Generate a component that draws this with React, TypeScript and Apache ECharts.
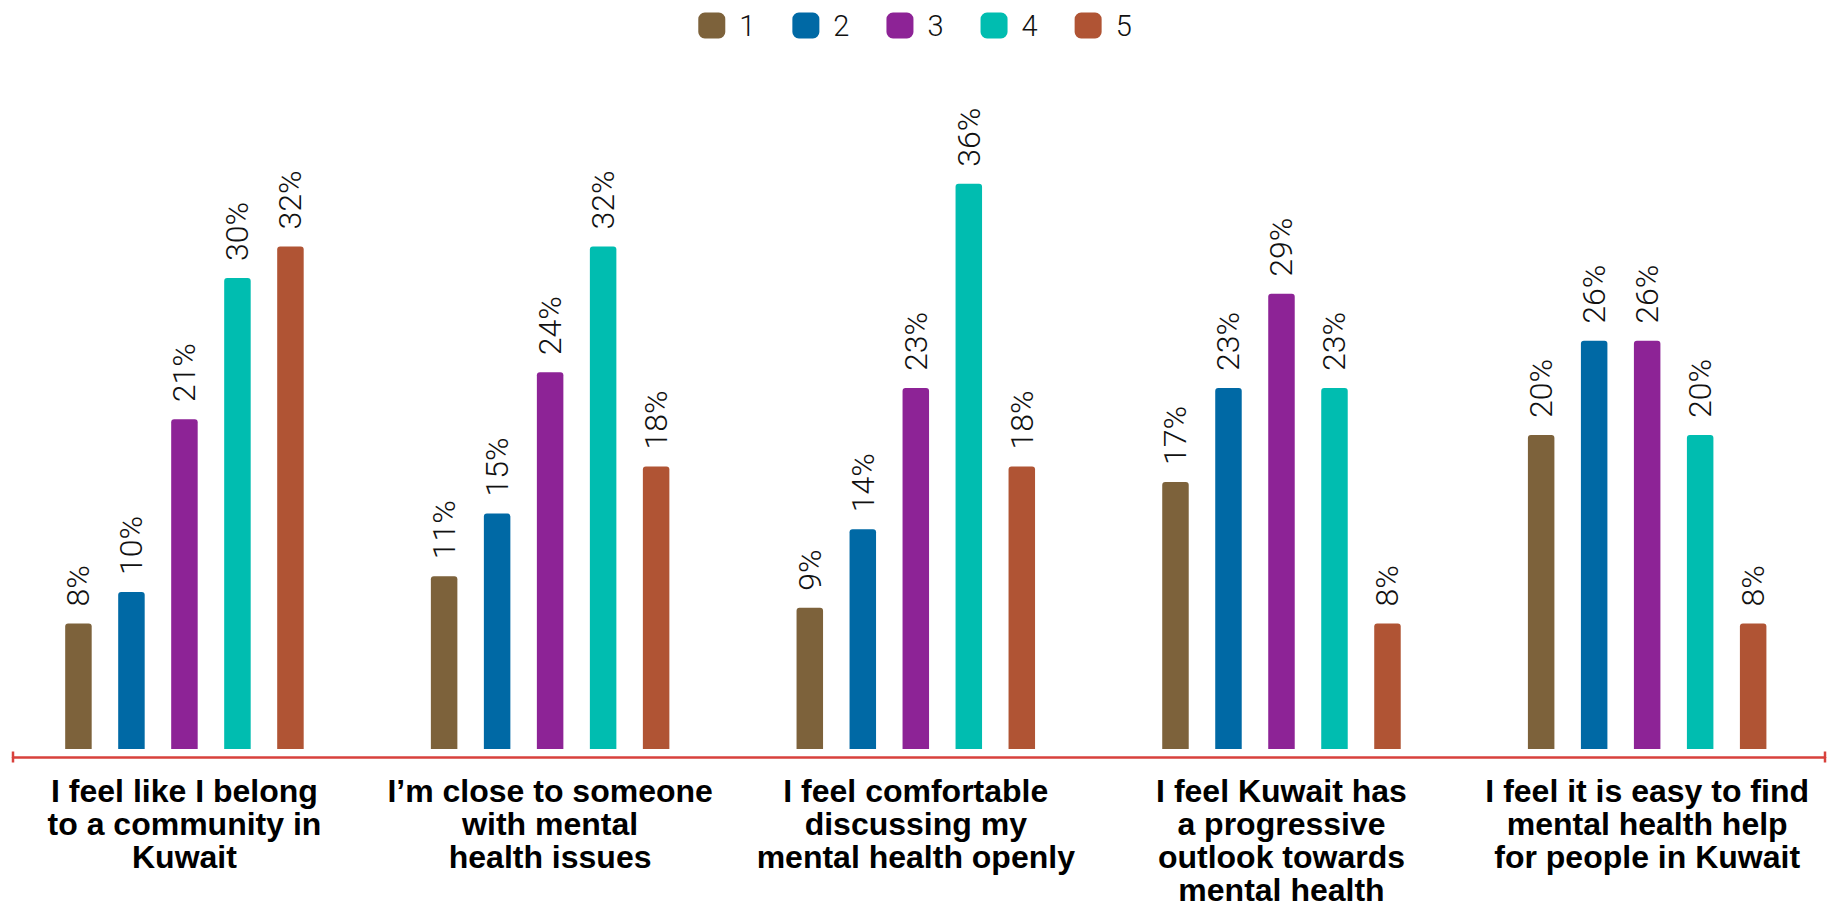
import React, { useEffect, useRef } from "react";
import * as echarts from "echarts";

const categories = [
  "I feel like I belong\nto a community in\nKuwait",
  "I’m close to someone\nwith mental\nhealth issues",
  "I feel comfortable\ndiscussing my\nmental health openly",
  "I feel Kuwait has\na progressive\noutlook towards\nmental health",
  "I feel it is easy to find\nmental health help\nfor people in Kuwait",
];

const seriesNames = ["1", "2", "3", "4", "5"];
const series1 = [8, 11, 9, 17, 20];
const series2 = [10, 15, 14, 23, 26];
const series3 = [21, 24, 23, 29, 26];
const series4 = [30, 32, 36, 23, 20];
const series5 = [32, 18, 18, 8, 8];
const seriesValues = [series1, series2, series3, series4, series5];
const colors = ["#7d623b", "#0069a5", "#8d2396", "#00bdb0", "#b05434"];

export default function App() {
  const ref = useRef<HTMLDivElement>(null);
  useEffect(() => {
    if (!ref.current) return;
    const chart = echarts.init(ref.current, null, { renderer: "svg" });
    const option: any = {
      animation: false,
      backgroundColor: "#ffffff",
      legend: {
        top: 11,
        left: "center",
        padding: 0,
        icon: "roundRect",
        itemWidth: 27,
        itemHeight: 26,
        itemGap: 37,
        textStyle: {
          fontFamily: "Roboto, 'Liberation Sans', sans-serif",
          fontWeight: 300,
          fontSize: 29,
          color: "#111",
          padding: [0, 0, 0, 9],
        },
        data: seriesNames,
      },
      grid: [
        { left: 1.6, width: 1834, top: 121, height: 636 },
        { left: 13, width: 1812, top: 121, height: 636 },
      ],
      xAxis: [
        {
          type: "category",
          gridIndex: 0,
          data: categories,
          axisLine: { show: false },
          axisTick: { show: false },
          axisLabel: {
            interval: 0,
            margin: 25,
            fontFamily: "'Liberation Sans', Arial, Helvetica, sans-serif",
            fontWeight: "bold",
            fontSize: 32,
            lineHeight: 33,
            color: "#000",
            align: "center",
          },
        },
        {
          type: "value",
          gridIndex: 1,
          min: 0,
          max: 1,
          position: "bottom",
          axisLine: {
            show: true,
            onZero: false,
            symbol: ["rect", "rect"],
            symbolSize: [11, 2.5],
            lineStyle: { color: "#d8413c", width: 2.5 },
          },
          axisTick: { show: false },
          axisLabel: { show: false },
          splitLine: { show: false },
        },
      ],
      yAxis: [
        { type: "value", gridIndex: 0, min: 0, max: 40, show: false },
        { type: "value", gridIndex: 1, min: 0, max: 1, show: false },
      ],
      series: seriesNames.map((name, i) => ({
        name,
        type: "bar",
        xAxisIndex: 0,
        yAxisIndex: 0,
        data: seriesValues[i],
        barWidth: 26.5,
        barGap: "100%",
        itemStyle: { color: colors[i], borderRadius: [3, 3, 0, 0] },
        label: {
          show: true,
          position: "top",
          distance: 17,
          rotate: 90,
          align: "left",
          verticalAlign: "middle",
          formatter: "{c}%",
          fontFamily: "Roboto, 'Liberation Sans', sans-serif",
          fontWeight: 300,
          fontSize: 32,
          color: "#111",
        },
      })),
    };
    chart.setOption(option);
    return () => chart.dispose();
  }, []);
  return (
    <div
      ref={ref}
      style={{ position: "absolute", left: 0, top: 0, width: 1830, height: 906 }}
    />
  );
}
